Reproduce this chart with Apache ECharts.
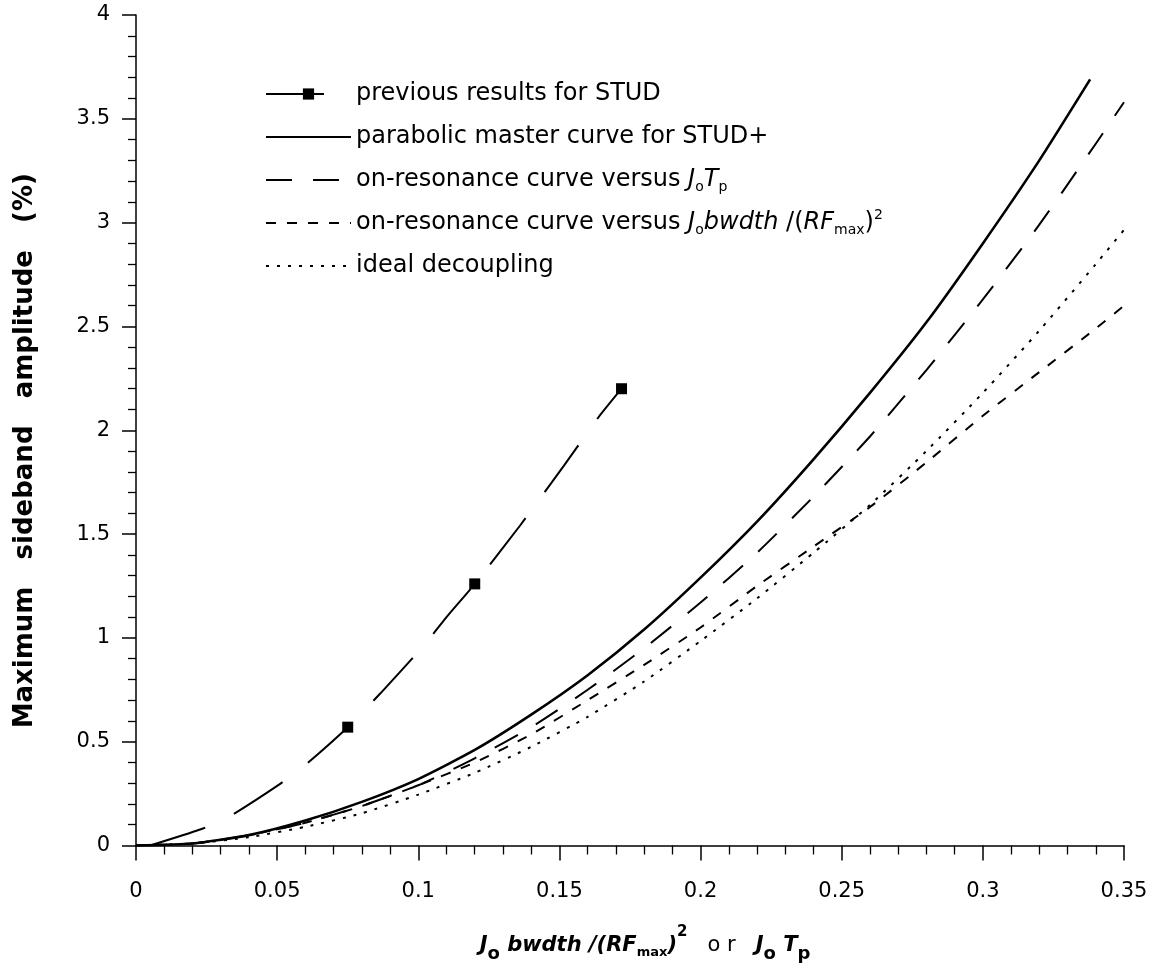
<!DOCTYPE html>
<html>
<head>
<meta charset="utf-8">
<script src="https://cdn.jsdelivr.net/npm/echarts@6/dist/echarts.min.js"></script>
<style>
html,body{margin:0;padding:0;background:#ffffff;}
#chart{width:1163px;height:971px;}
</style>
</head>
<body>
<div id="chart"></div>
<script>
// ---------------- data ----------------
const seriesNames = [
  'previous results for STUD',
  'parabolic master curve for STUD+',
  'on-resonance curve versus JoTp',
  'on-resonance curve versus Jo bwdth /(RFmax)2',
  'ideal decoupling'
];

// previous results for STUD (dashed line through three measured points)
const prevX = [0.005, 0.0227, 0.0323, 0.0504, 0.0598, 0.075, 0.0866, 0.1022, 0.110, 0.120, 0.136, 0.1516, 0.1637, 0.172];
const prevY = [0.0, 0.077, 0.133, 0.291, 0.386, 0.57, 0.733, 0.967, 1.10, 1.26, 1.54, 1.83, 2.06, 2.20];
const prevMarkerX = [0.075, 0.120, 0.172];

// parabolic master curve for STUD+
const masterX = [0, 0.02, 0.04, 0.06, 0.08, 0.10, 0.12, 0.14, 0.16, 0.18, 0.20, 0.22, 0.24, 0.26, 0.28, 0.30, 0.32, 0.338];
const masterY = [0, 0.01, 0.05, 0.12, 0.21, 0.32, 0.46, 0.63, 0.82, 1.04, 1.29, 1.56, 1.86, 2.18, 2.52, 2.90, 3.30, 3.69];

// shared abscissa of the three remaining curves
const curveX = [0, 0.02, 0.04, 0.06, 0.08, 0.10, 0.12, 0.14, 0.16, 0.18, 0.20, 0.22, 0.24, 0.26, 0.28, 0.30, 0.32, 0.34, 0.35];
const tpY    = [0, 0.01, 0.05, 0.11, 0.19, 0.29, 0.42, 0.57, 0.75, 0.95, 1.17, 1.41, 1.68, 1.97, 2.29, 2.63, 2.99, 3.38, 3.58];
const bwY    = [0, 0.01, 0.05, 0.11, 0.19, 0.29, 0.40, 0.535, 0.70, 0.87, 1.05, 1.25, 1.44, 1.63, 1.845, 2.07, 2.28, 2.49, 2.60];
const idealY = [0, 0.01, 0.04, 0.09, 0.155, 0.245, 0.35, 0.475, 0.62, 0.79, 0.985, 1.19, 1.41, 1.64, 1.90, 2.18, 2.48, 2.80, 2.965];

const xMin = 0, xMax = 0.35, xStep = 0.05;
const yMin = 0, yMax = 4, yStep = 0.5;

const yTitle = 'Maximum   sideband   amplitude   (%)';

// ---------------- chart ----------------
const FONT = '"DejaVu Sans", "Liberation Sans", Arial, sans-serif';
const BLACK = '#000000';

function pairs(xs, ys) { return xs.map((x, i) => [x, ys[i]]); }

const legendText = {};
legendText[seriesNames[2]] = 'on-resonance curve versus {i|J}{sub|o}{i|T}{sub|p}';
legendText[seriesNames[3]] = 'on-resonance curve versus {i|J}{sub|o}{i|bwdth} /({i|RF}{sub|max}){sup|2}';

const xName = '{bi|J}{sub|o}{bi| bwdth /(RF}{max|max}{bi|)}{sup|2}{r|   o r   }{bi|J}{sub|o}{bi| T}{sub|p}';

const chart = echarts.init(document.getElementById('chart'), null, {renderer: 'canvas'});

const legendData = seriesNames.map((n, i) => i === 0 ? {name: n} : {name: n, itemStyle: {opacity: 0}});

const option = {
  animation: false,
  backgroundColor: '#ffffff',
  grid: {left: 136, right: 39, top: 15, bottom: 116, containLabel: false},
  legend: {
    orient: 'vertical',
    left: 265,
    top: 76,
    padding: 0,
    itemWidth: 85,
    itemHeight: 14,
    itemGap: 7,
    selectedMode: false,
    data: legendData,
    formatter: function (name) { return legendText[name] || name; },
    textStyle: {
      fontFamily: FONT, fontSize: 24, color: BLACK, lineHeight: 36,
      rich: {
        i:   {fontFamily: FONT, fontSize: 24, fontStyle: 'italic', color: BLACK, lineHeight: 36},
        sub: {fontFamily: FONT, fontSize: 14, color: BLACK, lineHeight: 14, padding: [14, 0, 0, 0]},
        sup: {fontFamily: FONT, fontSize: 14, color: BLACK, lineHeight: 14, padding: [0, 0, 16, 0]}
      }
    }
  },
  xAxis: {
    type: 'value',
    min: xMin, max: xMax, interval: xStep,
    name: xName,
    nameLocation: 'middle',
    nameGap: 78,
    nameTextStyle: {
      padding: [0, 0, 0, 30],
      rich: {
        bi:  {fontFamily: FONT, fontSize: 21, fontWeight: 'bold', fontStyle: 'italic', color: BLACK, lineHeight: 44},
        r:   {fontFamily: FONT, fontSize: 21, color: BLACK, lineHeight: 44},
        sub: {fontFamily: FONT, fontSize: 18, fontWeight: 'bold', color: BLACK, lineHeight: 18, padding: [17, 0, 0, 0]},
        max: {fontFamily: FONT, fontSize: 13, fontWeight: 'bold', color: BLACK, lineHeight: 13, padding: [14, 0, 0, 0]},
        sup: {fontFamily: FONT, fontSize: 15, fontWeight: 'bold', color: BLACK, lineHeight: 15, padding: [0, 0, 26, 0]}
      }
    },
    axisLine: {show: true, onZero: false, lineStyle: {color: BLACK, width: 1.5}},
    axisTick: {show: true, inside: false, length: 15, lineStyle: {color: BLACK, width: 1.5}},
    minorTick: {show: true, splitNumber: 5, length: 9, lineStyle: {color: BLACK, width: 1.3}},
    splitLine: {show: false},
    minorSplitLine: {show: false},
    axisLabel: {fontFamily: FONT, fontSize: 21, color: BLACK, margin: 36}
  },
  yAxis: {
    type: 'value',
    min: yMin, max: yMax, interval: yStep,
    name: yTitle,
    nameLocation: 'middle',
    nameGap: 98,
    nameTextStyle: {fontFamily: FONT, fontSize: 26, fontWeight: 'bold', color: BLACK, padding: [0, 41, 0, 0]},
    axisLine: {show: true, onZero: false, lineStyle: {color: BLACK, width: 1.5}},
    axisTick: {show: true, inside: false, length: 14, lineStyle: {color: BLACK, width: 1.5}},
    minorTick: {show: true, splitNumber: 5, length: 8, lineStyle: {color: BLACK, width: 1.3}},
    splitLine: {show: false},
    minorSplitLine: {show: false},
    axisLabel: {fontFamily: FONT, fontSize: 21, color: BLACK, margin: 26}
  },
  series: [
    {
      name: seriesNames[0],
      type: 'line',
      data: prevX.map((x, i) => ({
        value: [x, prevY[i]],
        symbol: prevMarkerX.indexOf(x) >= 0 ? 'rect' : 'none'
      })),
      symbol: 'rect',
      symbolSize: 11,
      showSymbol: true,
      showAllSymbol: true,
      smooth: 0.2,
      lineStyle: {color: BLACK, width: 2, type: [58, 32]},
      itemStyle: {color: BLACK, borderWidth: 0},
      z: 3
    },
    {
      name: seriesNames[1],
      type: 'line',
      data: pairs(masterX, masterY),
      symbol: 'none',
      smooth: 0.2,
      lineStyle: {color: BLACK, width: 2.6, type: 'solid'},
      itemStyle: {color: BLACK, opacity: 0},
      z: 5
    },
    {
      name: seriesNames[2],
      type: 'line',
      data: pairs(curveX, tpY),
      symbol: 'none',
      smooth: 0.2,
      lineStyle: {color: BLACK, width: 2, type: [26, 21]},
      itemStyle: {color: BLACK, opacity: 0},
      z: 4
    },
    {
      name: seriesNames[3],
      type: 'line',
      data: pairs(curveX, bwY),
      symbol: 'none',
      smooth: 0.2,
      lineStyle: {color: BLACK, width: 2, type: [10, 11]},
      itemStyle: {color: BLACK, opacity: 0},
      z: 4
    },
    {
      name: seriesNames[4],
      type: 'line',
      data: pairs(curveX, idealY),
      symbol: 'none',
      smooth: 0.2,
      lineStyle: {color: BLACK, width: 2, type: [3, 8]},
      itemStyle: {color: BLACK, opacity: 0},
      z: 4
    }
  ]
};

chart.setOption(option);
</script>
</body>
</html>
